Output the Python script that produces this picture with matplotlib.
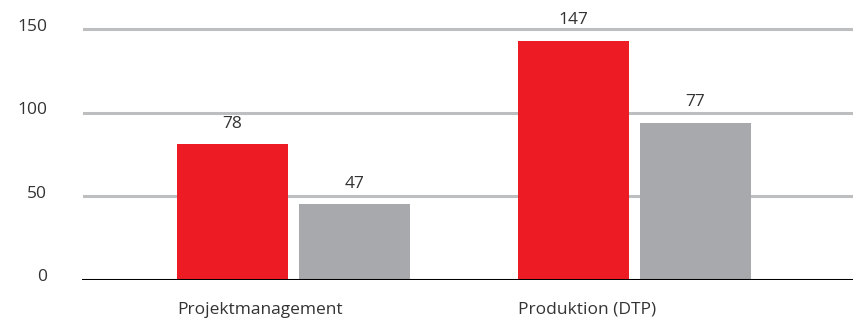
import matplotlib
matplotlib.use("Agg")
import matplotlib.pyplot as plt
import matplotlib.transforms as mtransforms
import numpy as np

categories = ["Projektmanagement", "Produktion (DTP)"]
series_red = [81, 143]
series_gray = [45, 94]
labels_red = ["78", "147"]
labels_gray = ["47", "77"]
yticks = [0, 50, 100, 150]

RED = "#ED1C24"
GRAY = "#A7A9AC"
TXT = "#333333"

plt.rcParams['font.family'] = ['Open Sans', 'DejaVu Sans']

W, H = 854, 319
fig = plt.figure(figsize=(W / 100, H / 100), dpi=100)
ax = fig.add_axes([82 / W, 39.5 / H, 772 / W, (306.4 - 39.5) / H])

x = np.arange(len(categories))
bw = 111 / 341
gap = 11 / 341
off = (bw + gap) / 2

ax.set_xlim((82 - 293.5) / 341, (854 - 293.5) / 341)
ax.set_ylim(0, 160)

for y in yticks[1:]:
    ax.axhline(y, xmin=2 / 772, color="#BCBEC0", lw=2.2, zorder=0)

br = ax.bar(x - off, series_red, width=bw, color=RED, zorder=2)
bg = ax.bar(x + off, series_gray, width=bw, color=GRAY, zorder=2)

for rect, lab in zip(br, labels_red):
    ax.annotate(lab, (rect.get_x() + rect.get_width() / 2, rect.get_height()),
                xytext=(0, 9), textcoords="offset points", ha="center", va="bottom",
                fontsize=12.5, color=TXT)
for rect, lab in zip(bg, labels_gray):
    ax.annotate(lab, (rect.get_x() + rect.get_width() / 2, rect.get_height()),
                xytext=(0, 9), textcoords="offset points", ha="center", va="bottom",
                fontsize=12.5, color=TXT)

ax.axhline(0, color="black", lw=2.2, zorder=3)

for s in ax.spines.values():
    s.set_visible(False)

ax.set_yticks(yticks)
ax.set_yticklabels([str(t) for t in yticks], fontsize=12.5, color=TXT)
ax.tick_params(axis="y", length=0, pad=25)
shift = mtransforms.ScaledTranslation(0, 4.5 / 100, fig.dpi_scale_trans)
for lbl in ax.get_yticklabels():
    lbl.set_transform(lbl.get_transform() + shift)

ax.set_xticks(x - off - bw / 2)
ax.set_xticklabels(categories, fontsize=12.5, color=TXT, ha="left")
ax.tick_params(axis="x", length=0, pad=16)

fig.savefig("out.png", dpi=100)
